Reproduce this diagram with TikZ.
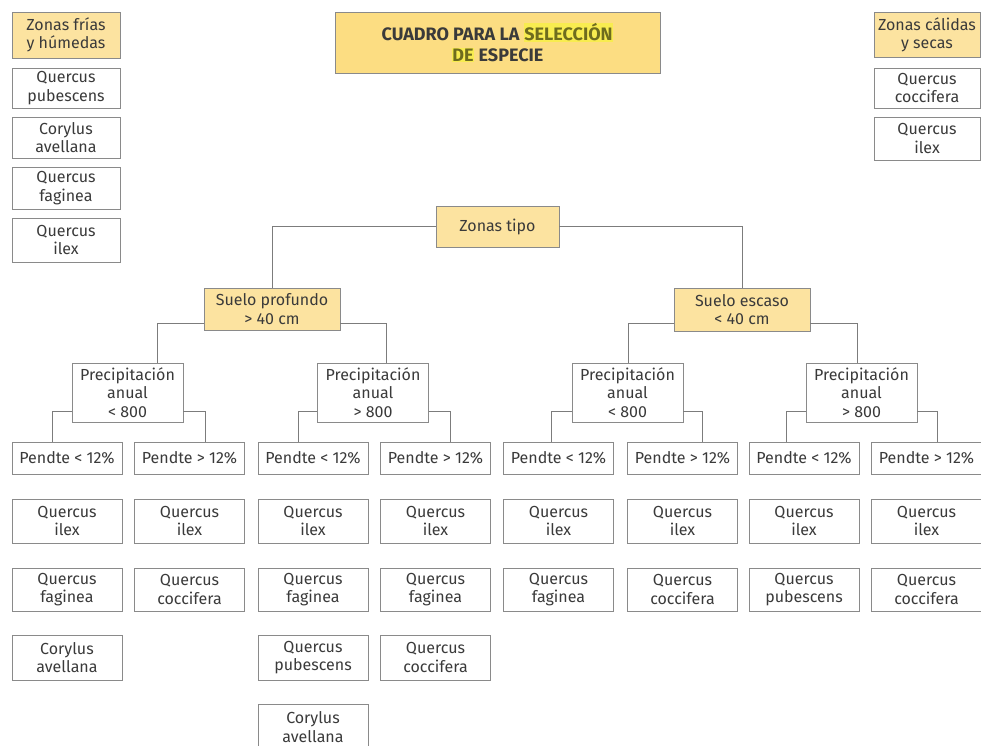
\documentclass[tikz,border=0pt]{standalone}
\usepackage{fontspec}
\setmainfont{Fira Sans}
\usetikzlibrary{calc}
\definecolor{boxyellow}{HTML}{FCE3A0}
\definecolor{titleyellow}{HTML}{FCDD82}
\definecolor{hlyellow}{HTML}{F8EC50}
\definecolor{hltext}{HTML}{6E6C1E}
\definecolor{edge}{HTML}{8A8A8A}
\definecolor{txt}{HTML}{3A3A3A}
\newcommand\hlt[1]{{\setlength{\fboxsep}{0.8pt}\colorbox{hlyellow}{\textcolor{hltext}{#1}}}}
\begin{document}
\begin{tikzpicture}[x=1pt,y=-1pt,
  box/.style={draw=edge,line width=0.9pt,fill=white,inner sep=0pt,align=center,
    text=txt,font=\fontsize{16}{18.5}\selectfont,minimum width=110pt},
  ybox/.style={box,fill=boxyellow},
  conn/.style={draw=edge!90!black,line width=0.9pt}]
\clip (0,0) rectangle (981,745);
\fill[white] (0,0) rectangle (981,745);

% title
\node[ybox,fill=titleyellow,minimum width=325pt,minimum height=61pt,
  font=\fontsize{18}{21}\bfseries\selectfont] (title) at (497.5,42.5)
  {CUADRO PARA LA \hlt{SELECCIÓN}\\\hlt{DE} ESPECIE};

% left legend
\node[ybox,minimum width=108pt,minimum height=46pt] (zf) at (66,35) {Zonas frías\\y húmedas};
\node[box,minimum width=108pt,minimum height=40pt] (l1) at (66,88) {Quercus\\pubescens};
\node[box,minimum width=108pt,minimum height=41pt] (l2) at (66,137.5) {Corylus\\avellana};
\node[box,minimum width=108pt,minimum height=42pt] (l3) at (66,188) {Quercus\\faginea};
\node[box,minimum width=108pt,minimum height=44pt] (l4) at (66,240) {Quercus\\ilex};

% right legend
\node[ybox,minimum width=106pt,minimum height=45pt] (zc) at (927,35) {Zonas cálidas\\y secas};
\node[box,minimum width=106pt,minimum height=40pt] (r1) at (927,88) {Quercus\\coccifera};
\node[box,minimum width=106pt,minimum height=43pt] (r2) at (927,138.5) {Quercus\\ilex};

% tree
\node[ybox,minimum width=123pt,minimum height=41pt] (zt) at (497.5,226.5) {Zonas tipo};
\node[ybox,minimum width=136pt,minimum height=42pt] (sp) at (272,309) {Suelo profundo\\> 40 cm};
\node[ybox,minimum width=136pt,minimum height=43pt] (se) at (742,309.5) {Suelo escaso\\< 40 cm};

\node[box,minimum width=111pt,minimum height=59pt] (p1) at (127.5,392.5) {Precipitación\\anual\\< 800};
\node[box,minimum width=111pt,minimum height=59pt] (p2) at (373,392.5) {Precipitación\\anual\\> 800};
\node[box,minimum width=111pt,minimum height=59pt] (p3) at (627.5,392.5) {Precipitación\\anual\\< 800};
\node[box,minimum width=111pt,minimum height=59pt] (p4) at (861.5,392.5) {Precipitación\\anual\\> 800};

\foreach \i/\x/\t in {1/67/<,2/189.5/>,3/313/<,4/435.5/>,5/558.5/<,6/682.5/>,7/804/<,8/926.5/>}{
  \node[box,minimum height=32pt] (pe\i) at (\x,458) {Pendte \t{} 12\%};
}

% species columns
\foreach \i/\x in {1/67,2/189.5,3/313,4/435.5,5/558.5,6/682.5,7/804,8/926.5}{
  \node[box,minimum height=44pt] (a\i) at (\x,521) {Quercus\\ilex};
}
\node[box,minimum height=43pt] (b1) at (67,589.5) {Quercus\\faginea};
\node[box,minimum height=43pt] (b2) at (189.5,589.5) {Quercus\\coccifera};
\node[box,minimum height=43pt] (b3) at (313,589.5) {Quercus\\faginea};
\node[box,minimum height=43pt] (b4) at (435.5,589.5) {Quercus\\faginea};
\node[box,minimum height=43pt] (b5) at (558.5,589.5) {Quercus\\faginea};
\node[box,minimum height=43pt] (b6) at (682.5,589.5) {Quercus\\coccifera};
\node[box,minimum height=43pt] (b7) at (804,589.5) {Quercus\\pubescens};
\node[box,minimum height=43pt] (b8) at (926.5,589.5) {Quercus\\coccifera};

\node[box,minimum height=45pt] (c1) at (67,657.5) {Corylus\\avellana};
\node[box,minimum height=45pt] (c3) at (313,657.5) {Quercus\\pubescens};
\node[box,minimum height=45pt] (c4) at (435.5,657.5) {Quercus\\coccifera};

\node[box,minimum height=46pt] (d3) at (313,727) {Corylus\\avellana};

% bend coordinates
\coordinate (k1) at (157,323);
\coordinate (k2) at (386,323);
\coordinate (k3) at (628,323);
\coordinate (k4) at (857,323);
\coordinate (m1) at (52,411);
\coordinate (m2) at (205,411);
\coordinate (m3) at (298,411);
\coordinate (m4) at (450,411);
\coordinate (m5) at (551,411);
\coordinate (m6) at (702,411);
\coordinate (m7) at (786,411);
\coordinate (m8) at (937,411);

% connectors
\draw[conn] (zt.west) -| (sp.north);
\draw[conn] (zt.east) -| (se.north);
\draw[conn] (sp.west |- k1) -| (k1 |- p1.north);
\draw[conn] (sp.east |- k2) -| (k2 |- p2.north);
\draw[conn] (se.west |- k3) -| (k3 |- p3.north);
\draw[conn] (se.east |- k4) -| (k4 |- p4.north);
\draw[conn] (p1.west |- m1) -| (m1 |- pe1.north);
\draw[conn] (p1.east |- m2) -| (m2 |- pe2.north);
\draw[conn] (p2.west |- m3) -| (m3 |- pe3.north);
\draw[conn] (p2.east |- m4) -| (m4 |- pe4.north);
\draw[conn] (p3.west |- m5) -| (m5 |- pe5.north);
\draw[conn] (p3.east |- m6) -| (m6 |- pe6.north);
\draw[conn] (p4.west |- m7) -| (m7 |- pe7.north);
\draw[conn] (p4.east |- m8) -| (m8 |- pe8.north);
\end{tikzpicture}
\end{document}
